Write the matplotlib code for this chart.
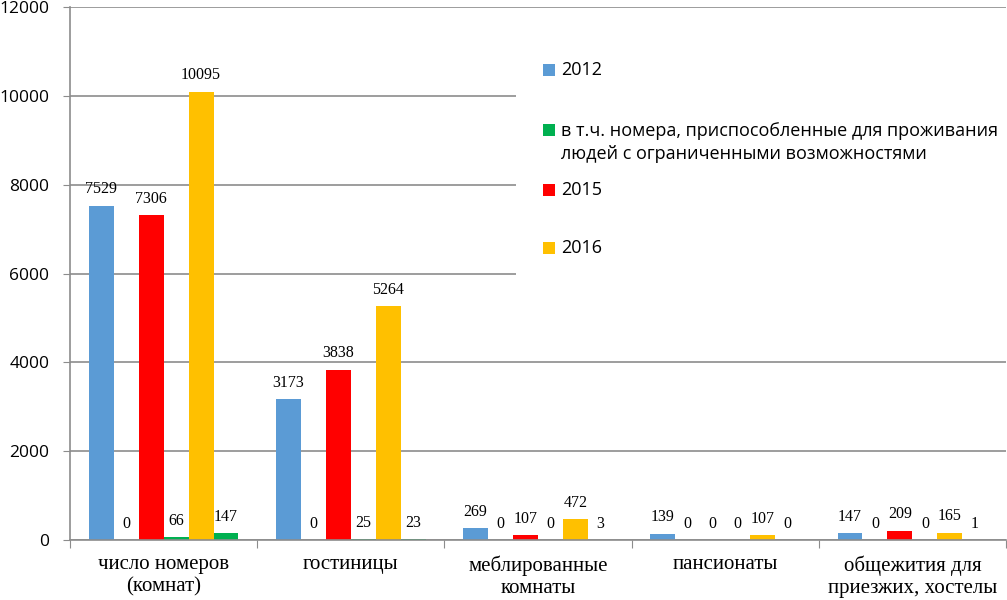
import matplotlib
matplotlib.use("Agg")
import matplotlib.pyplot as plt
from matplotlib.patches import Rectangle
import numpy as np

categories = ["число номеров\n(комнат)", "гостиницы", "меблированные\nкомнаты",
              "пансионаты", "общежития для\nприезжих, хостелы"]
v2012 = [7529, 3173, 269, 139, 147]
acc2012 = [0, 0, 0, 0, 0]
v2015 = [7306, 3838, 107, 0, 209]
acc2015 = [66, 25, 0, 0, 0]
v2016 = [10095, 5264, 472, 107, 165]
acc2016 = [147, 23, 3, 0, 1]
yticks = [0, 2000, 4000, 6000, 8000, 10000, 12000]
legend_labels = ["2012",
                 "в т.ч. номера, приспособленные для проживания\nлюдей с ограниченными возможностями",
                 "2015", "2016"]

C_BLUE = "#5B9BD5"
C_GREEN = "#00B050"
C_RED = "#FF0000"
C_YEL = "#FFC000"
GRID = "#8C8C8C"
SANS = ["Open Sans", "DejaVu Sans"]
SERIF = ["Liberation Serif", "DejaVu Serif"]

W, H = 1007, 600
fig = plt.figure(figsize=(W / 100, H / 100), dpi=100)
AX_L, AX_R, AX_B, AX_T = 70, 1006, 540, 7
ax = fig.add_axes([AX_L / W, 1 - AX_B / H, (AX_R - AX_L) / W, (AX_B - AX_T) / H])

series = [(v2012, C_BLUE), (acc2012, C_GREEN), (v2015, C_RED),
          (acc2015, C_GREEN), (v2016, C_YEL), (acc2016, C_GREEN)]
x = np.arange(len(categories))
bw = 0.8 / 6
for i, (vals, col) in enumerate(series):
    pos = x - 0.4 + bw * (i + 0.5)
    bars = ax.bar(pos, vals, width=bw, color=col, zorder=2)
    ax.bar_label(bars, labels=[str(v) for v in vals], padding=6,
                 fontsize=11.5, family=SERIF, color="black")

ax.set_xlim(-0.5, len(categories) - 0.5)
ax.set_ylim(0, 12000)
ax.set_yticks(yticks)
ax.set_yticklabels([str(t) for t in yticks], fontsize=12.5, family=SANS)
ax.yaxis.grid(True, color=GRID, linewidth=1.2, zorder=0)
ax.set_axisbelow(True)
ax.tick_params(axis="y", length=5, color=GRID, pad=10)

ax.set_xticks(np.arange(-0.5, len(categories)), minor=False)
ax.set_xticklabels([""] * (len(categories) + 1))
ax.set_xticks(x, minor=True)
ax.set_xticklabels(categories, minor=True, fontsize=15, family=SERIF, linespacing=1.22)
ax.tick_params(axis="x", which="major", length=6, color=GRID)
ax.tick_params(axis="x", which="minor", length=0, pad=11)

for s in ["top", "right"]:
    ax.spines[s].set_visible(False)
for s in ["left", "bottom"]:
    ax.spines[s].set_color(GRID)
    ax.spines[s].set_linewidth(1.2)


def fx(px):
    return px / W


def fy(py):
    return 1 - py / H


# legend box (white background covering gridlines)
fig.add_artist(Rectangle((fx(516), fy(283)), fx(1006) - fx(516), fy(14) - fy(283),
                         transform=fig.transFigure, facecolor="white",
                         edgecolor="none", zorder=5))
leg_cols = [C_BLUE, C_GREEN, C_RED, C_YEL]
leg_marker_y = [70, 130, 189.5, 248]
leg_text_y = [70, 142.5, 189.5, 248]
for lab, col, my, ty in zip(legend_labels, leg_cols, leg_marker_y, leg_text_y):
    fig.add_artist(Rectangle((fx(543), fy(my + 6)), fx(12), fy(0) - fy(12),
                             transform=fig.transFigure, facecolor=col,
                             edgecolor="none", zorder=6))
    fig.text(fx(561), fy(ty), lab, fontsize=13, family=SANS, va="center",
             ha="left", zorder=7, linespacing=1.4,
             transform=fig.transFigure)

fig.savefig("out.png", dpi=100)
